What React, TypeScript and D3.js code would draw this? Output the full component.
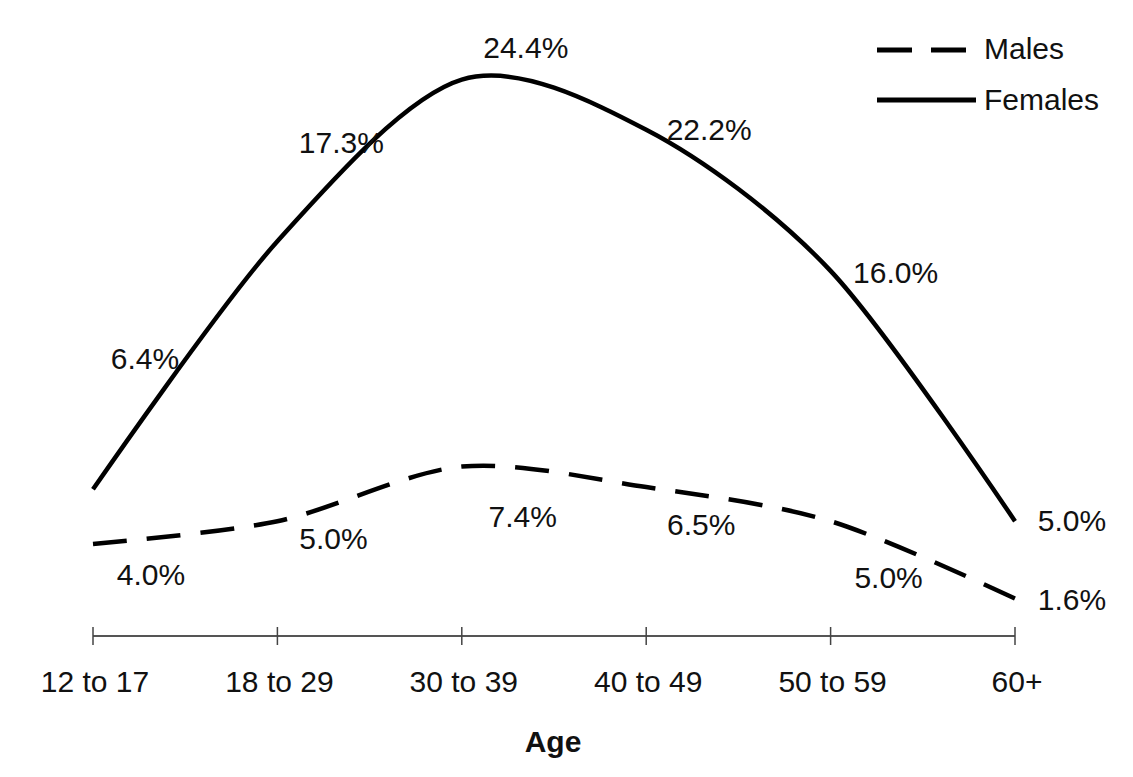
import React from "react";
import * as d3 from "d3";

const categories = ["12 to 17", "18 to 29", "30 to 39", "40 to 49", "50 to 59", "60+"];
const males = [4.0, 5.0, 7.4, 6.5, 5.0, 1.6];
const females = [6.4, 17.3, 24.4, 22.2, 16.0, 5.0];
const seriesNames = ["Males", "Females"];
const axisTitle = "Age";

// label offsets (layout only) relative to each point
const femaleLabelOffsets: [number, number][] = [
  [52, -120], [64, -88], [64, -22], [63, 10], [65, 12], [57, 10],
];
const maleLabelOffsets: [number, number][] = [
  [58, 41], [56, 28], [61, 60], [55, 48], [58, 67], [57, 11],
];

const W = 1133;
const H = 777;
const FONT = "'Liberation Sans', Arial, Helvetica, sans-serif";

export default function App() {
  const x = d3.scalePoint<string>().domain(categories).range([93, 1015]);
  const y = d3.scaleLinear().domain([0, 25]).range([635, 66]);
  const line = d3
    .line<number>()
    .x((_, i) => x(categories[i]) as number)
    .y((d) => y(d))
    .curve(d3.curveCardinal.tension(0.1));

  const axisY = 636;
  const fmt = (v: number) => v.toFixed(1) + "%";

  return (
    <svg
      width={W}
      height={H}
      style={{ position: "absolute", left: 0, top: 0, background: "#fff" }}
      fontFamily={FONT}
    >
      {/* axis */}
      <line x1={x(categories[0])} x2={x(categories[categories.length - 1])} y1={axisY} y2={axisY} stroke="#555" strokeWidth={2} />
      {categories.map((c) => (
        <g key={c}>
          <line x1={x(c)} x2={x(c)} y1={axisY - 9} y2={axisY + 9} stroke="#444" strokeWidth={1.5} />
          <text x={(x(c) as number) + 2} y={692} textAnchor="middle" fontSize={30} fill="#111">
            {c}
          </text>
        </g>
      ))}
      <text x={553} y={752} textAnchor="middle" fontSize={30} fontWeight="bold" fill="#111">
        {axisTitle}
      </text>

      {/* lines */}
      <path d={line(females) || ""} fill="none" stroke="#000" strokeWidth={4.5} strokeLinejoin="round" />
      <path d={line(males) || ""} fill="none" stroke="#000" strokeWidth={4.5} strokeDasharray="34 20" />

      {/* data labels */}
      {females.map((v, i) => (
        <text
          key={"f" + i}
          x={(x(categories[i]) as number) + femaleLabelOffsets[i][0]}
          y={y(v) + femaleLabelOffsets[i][1]}
          textAnchor="middle"
          fontSize={30}
          fill="#111"
        >
          {fmt(v)}
        </text>
      ))}
      {males.map((v, i) => (
        <text
          key={"m" + i}
          x={(x(categories[i]) as number) + maleLabelOffsets[i][0]}
          y={y(v) + maleLabelOffsets[i][1]}
          textAnchor="middle"
          fontSize={30}
          fill="#111"
        >
          {fmt(v)}
        </text>
      ))}

      {/* legend */}
      <line x1={877} x2={966} y1={50} y2={50} stroke="#000" strokeWidth={5} strokeDasharray="35 19" />
      <text x={984} y={59} fontSize={30} fill="#111">{seriesNames[0]}</text>
      <line x1={877} x2={976} y1={100} y2={100} stroke="#000" strokeWidth={5} />
      <text x={984} y={110} fontSize={30} fill="#111">{seriesNames[1]}</text>
    </svg>
  );
}
